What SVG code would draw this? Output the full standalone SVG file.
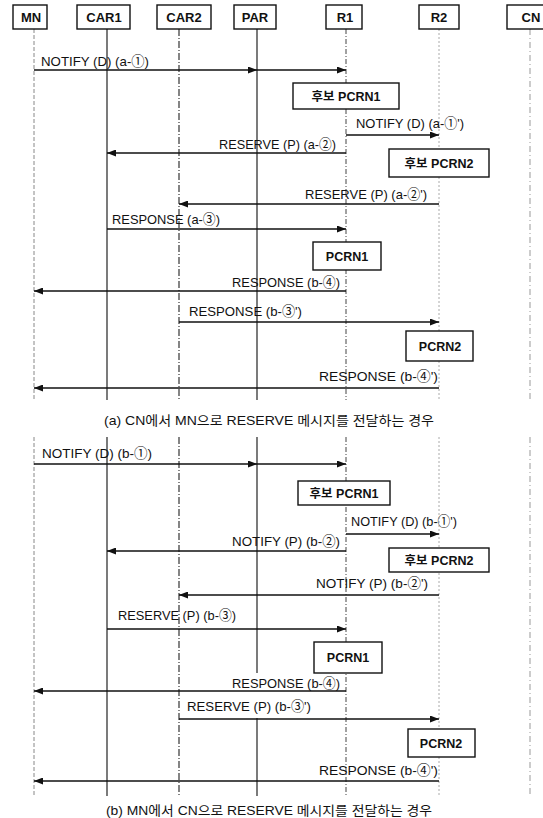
<svg xmlns="http://www.w3.org/2000/svg" width="543" height="818" viewBox="0 0 543 818">
<style>
.bg{fill:#fff}
.box{fill:#fff;stroke:#111;stroke-width:1.4}
.hd{font-family:"Liberation Sans","Noto Sans CJK KR",sans-serif;font-size:13px;font-weight:bold;fill:#111;text-anchor:middle}
.bx{font-family:"Liberation Sans","Noto Sans CJK KR",sans-serif;font-size:12.5px;font-weight:bold;fill:#111;text-anchor:middle}
.lbl{font-family:"Liberation Sans","Noto Sans CJK KR",sans-serif;font-size:13.5px;fill:#111}
.cap{font-family:"Liberation Sans","Noto Sans CJK KR",sans-serif;font-size:13px;fill:#111}
.msg{stroke:#111;stroke-width:1.4;fill:none;marker-end:url(#ah)}
.ll-mn{stroke:#888;stroke-width:1;stroke-dasharray:4 2}
.ll-car1{stroke:#222;stroke-width:1.2}
.ll-car2{stroke:#222;stroke-width:1.1;stroke-dasharray:7 2 1 2}
.ll-par{stroke:#222;stroke-width:1.2}
.ll-r1{stroke:#444;stroke-width:1;stroke-dasharray:5 2 1 2}
.ll-r2{stroke:#aaa;stroke-width:1;stroke-dasharray:2 2}
.ll-cn{stroke:#999;stroke-width:1;stroke-dasharray:6 3 1 3}
</style>
<defs>
<marker id="ah" markerUnits="userSpaceOnUse" markerWidth="9" markerHeight="7" refX="9" refY="3.5" orient="auto">
<path d="M0,0 L9,3.5 L0,7 z" fill="#111"/>
</marker>
</defs>
<rect class="bg" x="0" y="0" width="543" height="818"/>

<g id="lifelines">
<line class="ll-mn" x1="34" y1="29" x2="34" y2="400"/>
<line class="ll-car1" x1="107" y1="29" x2="107" y2="400"/>
<line class="ll-car2" x1="179" y1="29" x2="179" y2="400"/>
<line class="ll-par" x1="257" y1="29" x2="257" y2="400"/>
<line class="ll-r1" x1="346" y1="29" x2="346" y2="400"/>
<line class="ll-r2" x1="439" y1="29" x2="439" y2="400"/>
<line class="ll-cn" x1="530" y1="29" x2="530" y2="400"/>
<line class="ll-mn" x1="34" y1="437" x2="34" y2="796"/>
<line class="ll-car1" x1="107" y1="437" x2="107" y2="796"/>
<line class="ll-car2" x1="179" y1="437" x2="179" y2="796"/>
<line class="ll-par" x1="257" y1="437" x2="257" y2="673"/>
<line class="ll-par" x1="257" y1="718" x2="257" y2="796"/>
<line class="ll-r1" x1="346" y1="437" x2="346" y2="796"/>
<line class="ll-r2" x1="439" y1="437" x2="439" y2="796"/>
<line class="ll-cn" x1="530" y1="437" x2="530" y2="796"/>
</g>

<g id="node-MN"><rect class="box" x="13" y="5" width="34" height="24"/><text class="hd" x="31" y="22">MN</text></g>
<g id="node-CAR1"><rect class="box" x="77" y="5" width="53" height="24"/><text class="hd" x="104" y="22">CAR1</text></g>
<g id="node-CAR2"><rect class="box" x="157" y="5" width="54" height="24"/><text class="hd" x="184" y="22">CAR2</text></g>
<g id="node-PAR"><rect class="box" x="234" y="5" width="42" height="24"/><text class="hd" x="255" y="22">PAR</text></g>
<g id="node-R1"><rect class="box" x="326" y="5" width="36" height="24"/><text class="hd" x="345" y="22">R1</text></g>
<g id="node-R2"><rect class="box" x="419" y="5" width="40" height="24"/><text class="hd" x="439" y="22">R2</text></g>
<g id="node-CN"><rect class="box" x="507" y="5" width="48" height="24"/><text class="hd" x="531" y="22">CN</text></g>

<g id="node-a-cand-pcrn1"><rect class="box" x="293" y="83" width="106" height="26"/><text class="bx" x="346" y="100.5">후보 PCRN1</text></g>
<g id="node-a-cand-pcrn2"><rect class="box" x="389" y="149" width="100" height="28"/><text class="bx" x="439" y="167.5">후보 PCRN2</text></g>
<g id="node-a-pcrn1"><rect class="box" x="313" y="242" width="68" height="28"/><text class="bx" x="347" y="260.5">PCRN1</text></g>
<g id="node-a-pcrn2"><rect class="box" x="406" y="331" width="67" height="30"/><text class="bx" x="440" y="350.5">PCRN2</text></g>

<g id="node-b-cand-pcrn1"><rect class="box" x="298" y="481" width="92" height="24"/><text class="bx" x="344" y="497.5">후보 PCRN1</text></g>
<g id="node-b-cand-pcrn2"><rect class="box" x="389" y="548" width="100" height="24"/><text class="bx" x="439" y="564.5">후보 PCRN2</text></g>
<g id="node-b-pcrn1"><rect class="box" x="314" y="642" width="68" height="31"/><text class="bx" x="348" y="661.5">PCRN1</text></g>
<g id="node-b-pcrn2"><rect class="box" x="408" y="729" width="67" height="28"/><text class="bx" x="441" y="747.5">PCRN2</text></g>

<g id="connectors">
<line class="msg" x1="34" y1="70" x2="257" y2="70"/>
<line class="msg" x1="257" y1="70" x2="346" y2="70"/>
<line class="msg" x1="346" y1="135" x2="439" y2="135"/>
<line class="msg" x1="346" y1="153" x2="107" y2="153"/>
<line class="msg" x1="439" y1="204" x2="179" y2="204"/>
<line class="msg" x1="107" y1="229" x2="346" y2="229"/>
<line class="msg" x1="346" y1="291" x2="34" y2="291"/>
<line class="msg" x1="179" y1="322" x2="439" y2="322"/>
<line class="msg" x1="439" y1="388" x2="34" y2="388"/>

<line class="msg" x1="34" y1="464" x2="257" y2="464"/>
<line class="msg" x1="257" y1="464" x2="346" y2="464"/>
<line class="msg" x1="346" y1="534" x2="439" y2="534"/>
<line class="msg" x1="346" y1="551" x2="107" y2="551"/>
<line class="msg" x1="439" y1="595" x2="179" y2="595"/>
<line class="msg" x1="107" y1="629" x2="346" y2="629"/>
<line class="msg" x1="346" y1="691" x2="34" y2="691"/>
<line class="msg" x1="179" y1="719" x2="439" y2="719"/>
<line class="msg" x1="439" y1="781" x2="34" y2="781"/>
</g>

<g id="labels">
<text class="lbl" x="41" y="66" textLength="108" lengthAdjust="spacingAndGlyphs">NOTIFY (D) (a-①)</text>
<text class="lbl" x="356" y="128" textLength="108" lengthAdjust="spacingAndGlyphs">NOTIFY (D) (a-①')</text>
<text class="lbl" x="219" y="149" textLength="117" lengthAdjust="spacingAndGlyphs">RESERVE (P) (a-②)</text>
<text class="lbl" x="305" y="199" textLength="122" lengthAdjust="spacingAndGlyphs">RESERVE (P) (a-②')</text>
<text class="lbl" x="112" y="224" textLength="108" lengthAdjust="spacingAndGlyphs">RESPONSE (a-③)</text>
<text class="lbl" x="232" y="287" textLength="108" lengthAdjust="spacingAndGlyphs">RESPONSE (b-④)</text>
<text class="lbl" x="189" y="316" textLength="113" lengthAdjust="spacingAndGlyphs">RESPONSE (b-③')</text>
<text class="lbl" x="319" y="381" textLength="119" lengthAdjust="spacingAndGlyphs">RESPONSE (b-④')</text>
<text class="cap" x="104" y="425" textLength="330" lengthAdjust="spacingAndGlyphs">(a) CN에서 MN으로 RESERVE 메시지를 전달하는 경우</text>

<text class="lbl" x="42" y="458" textLength="110" lengthAdjust="spacingAndGlyphs">NOTIFY (D) (b-①)</text>
<text class="lbl" x="351" y="526" textLength="106" lengthAdjust="spacingAndGlyphs">NOTIFY (D) (b-①')</text>
<text class="lbl" x="232" y="546" textLength="108" lengthAdjust="spacingAndGlyphs">NOTIFY (P) (b-②)</text>
<text class="lbl" x="316" y="588" textLength="112" lengthAdjust="spacingAndGlyphs">NOTIFY (P) (b-②')</text>
<text class="lbl" x="118" y="620" textLength="118" lengthAdjust="spacingAndGlyphs">RESERVE (P) (b-③)</text>
<text class="lbl" x="232" y="688" textLength="108" lengthAdjust="spacingAndGlyphs">RESPONSE (b-④)</text>
<text class="lbl" x="187" y="711" textLength="124" lengthAdjust="spacingAndGlyphs">RESERVE (P) (b-③')</text>
<text class="lbl" x="319" y="775" textLength="119" lengthAdjust="spacingAndGlyphs">RESPONSE (b-④')</text>
<text class="cap" x="106" y="815" textLength="326" lengthAdjust="spacingAndGlyphs">(b) MN에서 CN으로 RESERVE 메시지를 전달하는 경우</text>
</g>
</svg>
